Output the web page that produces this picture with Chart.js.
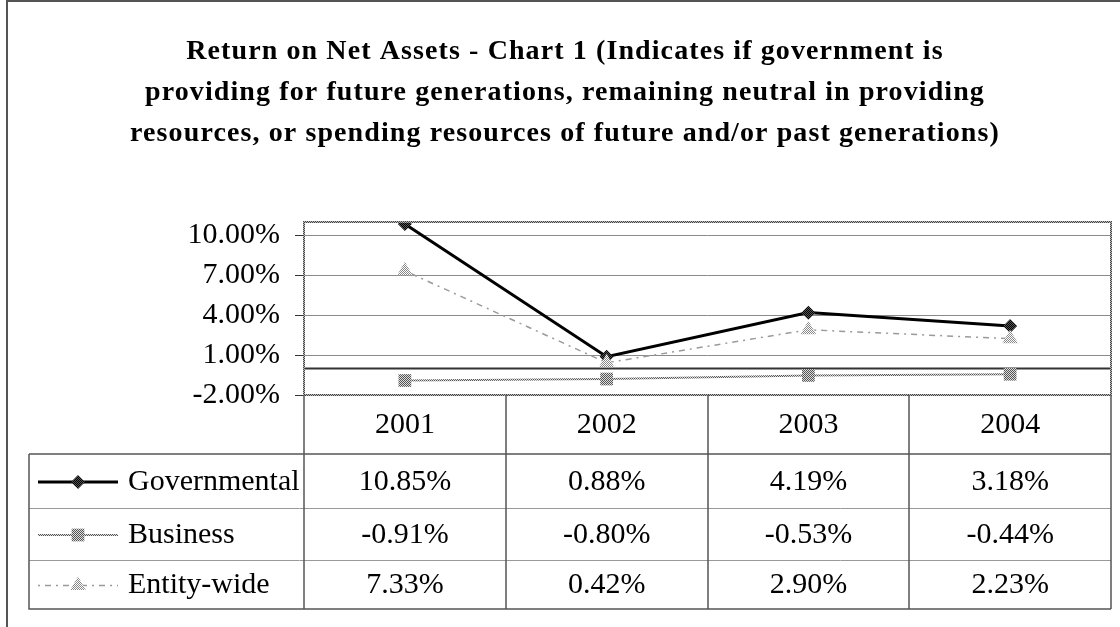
<!DOCTYPE html>
<html>
<head>
<meta charset="utf-8">
<script src="https://cdn.jsdelivr.net/npm/chart.js@4.4.0/dist/chart.umd.min.js"></script>
<style>
  html, body { margin: 0; padding: 0; background: #fff; }
  #wrap { width: 1120px; height: 627px; }
</style>
</head>
<body>
<div id="wrap"><canvas id="chart" width="1120" height="627"></canvas></div>
<script>
// title, categories and series
const titleLines = [
  'Return on Net Assets - Chart 1 (Indicates if government is',
  'providing for future generations, remaining neutral in providing',
  'resources, or spending resources of future and/or past generations)'
];
const years = ['2001', '2002', '2003', '2004'];
const seriesNames = ['Governmental', 'Business', 'Entity-wide'];
const governmental = [10.85, 0.88, 4.19, 3.18];
const business = [-0.91, -0.80, -0.53, -0.44];
const entityWide = [7.33, 0.42, 2.90, 2.23];
const yTicks = [-2, 1, 4, 7, 10];
const yMin = -2;
const yMax = 11;

const SERIF = '"Liberation Serif", "Times New Roman", serif';
const pct = v => v.toFixed(2) + '%';

const canvas = document.getElementById('chart');
const ctx = canvas.getContext('2d');

// 2x2 checker, gives the old dithered-grey look
function checker(c1, c2) {
  const p = document.createElement('canvas');
  p.width = 2; p.height = 2;
  const g = p.getContext('2d');
  g.fillStyle = c2; g.fillRect(0, 0, 2, 2);
  g.fillStyle = c1; g.fillRect(0, 0, 1, 1); g.fillRect(1, 1, 1, 1);
  return ctx.createPattern(p, 'repeat');
}

const ditherDark = checker('#000', '#555');
const ditherMid = checker('#555', '#ddd');
const ditherLight = checker('#888', '#fff');
const frameDither = checker('#444', '#bbb');

const seriesStyle = [
  { color: '#000', width: 3, dash: [], point: 'rectRot', radius: 7, fill: ditherDark },
  { color: ditherMid, width: 2, dash: [], point: 'rect', radius: 9, fill: ditherMid },
  { color: '#9a9a9a', width: 1.5, dash: [2, 5, 6, 5], point: 'triangle', radius: 9, fill: ditherLight }
];
const seriesData = [governmental, business, entityWide];

function drawMarker(c, style, x, y, r, fill) {
  c.save();
  c.fillStyle = fill;
  c.beginPath();
  if (style === 'rectRot') {
    c.moveTo(x - r, y); c.lineTo(x, y - r); c.lineTo(x + r, y); c.lineTo(x, y + r);
  } else if (style === 'rect') {
    const s = r * Math.SQRT1_2;
    c.rect(x - s, y - s, 2 * s, 2 * s);
  } else {
    c.moveTo(x, y - r);
    c.lineTo(x + Math.sin(2 * Math.PI / 3) * r, y - Math.cos(2 * Math.PI / 3) * r);
    c.lineTo(x + Math.sin(4 * Math.PI / 3) * r, y - Math.cos(4 * Math.PI / 3) * r);
  }
  c.closePath();
  c.fill();
  c.restore();
}

// outer frame, title, zero line
const backdrop = {
  id: 'backdrop',
  beforeDraw(chart) {
    const c = chart.ctx;
    c.save();
    c.strokeStyle = '#555';
    c.lineWidth = 2;
    c.beginPath();
    c.moveTo(7, 627); c.lineTo(7, 1); c.lineTo(1120, 1);
    c.stroke();
    c.fillStyle = '#000';
    c.font = 'bold 28px ' + SERIF;
    c.letterSpacing = '1.1px';
    c.textAlign = 'center';
    c.textBaseline = 'alphabetic';
    titleLines.forEach((t, i) => c.fillText(t, 565, 59 + i * 41));
    c.restore();
  },
  beforeDatasetsDraw(chart) {
    const c = chart.ctx;
    const a = chart.chartArea;
    const y0 = chart.scales.y.getPixelForValue(0);
    c.save();
    c.strokeStyle = '#333';
    c.lineWidth = 2;
    c.beginPath();
    c.moveTo(a.left, y0); c.lineTo(a.right, y0);
    c.stroke();
    c.restore();
  }
};

// plot frame and the data table underneath
const dataTable = {
  id: 'dataTable',
  afterDraw(chart) {
    const c = chart.ctx;
    const a = chart.chartArea;
    const x = chart.scales.x;
    const band = (a.right - a.left) / years.length;
    const headTop = a.bottom;
    const rowTops = [454, 508, 560];
    const tableBottom = 609;
    const tableLeft = 29;

    c.save();
    // plot frame
    c.strokeStyle = frameDither;
    c.lineWidth = 2;
    c.strokeRect(a.left, a.top, a.right - a.left, a.bottom - a.top);

    // light row separators
    c.strokeStyle = '#999';
    c.lineWidth = 1;
    c.beginPath();
    [rowTops[1], rowTops[2]].forEach(y => { c.moveTo(tableLeft, y + 0.5); c.lineTo(a.right, y + 0.5); });
    c.stroke();

    // dark grid of the table
    c.strokeStyle = '#555';
    c.lineWidth = 1.5;
    c.beginPath();
    for (let i = 0; i <= years.length; i++) {
      const xv = Math.round(a.left + i * band);
      c.moveTo(xv, headTop); c.lineTo(xv, tableBottom);
    }
    c.moveTo(tableLeft, rowTops[0]); c.lineTo(a.right, rowTops[0]);
    c.moveTo(tableLeft, rowTops[0]); c.lineTo(tableLeft, tableBottom);
    c.lineTo(a.right, tableBottom);
    c.stroke();

    c.fillStyle = '#000';
    c.font = '30px ' + SERIF;
    c.textBaseline = 'middle';
    c.textAlign = 'center';
    years.forEach((yr, i) => c.fillText(yr, x.getPixelForValue(i), (headTop + rowTops[0]) / 2 + 1));

    const rowBottoms = [rowTops[1], rowTops[2], tableBottom];
    seriesNames.forEach((name, r) => {
      const cy = (rowTops[r] + rowBottoms[r]) / 2 + 1;
      const st = seriesStyle[r];
      c.textAlign = 'center';
      seriesData[r].forEach((v, i) => c.fillText(pct(v), x.getPixelForValue(i), cy));
      // legend key
      c.save();
      c.strokeStyle = st.color;
      c.lineWidth = st.width;
      c.setLineDash(st.dash);
      c.beginPath();
      c.moveTo(38, cy); c.lineTo(118, cy);
      c.stroke();
      c.restore();
      drawMarker(c, st.point, 78, cy, st.radius, st.fill);
      c.textAlign = 'left';
      c.fillText(name, 128, cy);
    });
    c.restore();
  }
};

new Chart(canvas, {
  type: 'line',
  data: {
    labels: years,
    datasets: seriesNames.map((name, i) => ({
      label: name,
      data: seriesData[i],
      borderColor: seriesStyle[i].color,
      borderWidth: seriesStyle[i].width,
      borderDash: seriesStyle[i].dash,
      pointStyle: seriesStyle[i].point,
      pointRadius: seriesStyle[i].radius,
      pointBackgroundColor: seriesStyle[i].fill,
      pointBorderWidth: 0,
      tension: 0,
      fill: false
    })).reverse()
  },
  options: {
    responsive: false,
    animation: false,
    layout: { padding: { left: 0, top: 222, right: 8, bottom: 232 } },
    plugins: { legend: { display: false }, tooltip: { enabled: false }, title: { display: false } },
    scales: {
      x: { type: 'category', offset: true, display: false },
      y: {
        min: yMin,
        max: yMax,
        afterBuildTicks: s => { s.ticks = yTicks.map(v => ({ value: v })); },
        afterFit: s => { s.width = 304; },
        border: { display: false },
        grid: { color: '#8a8a8a', lineWidth: 1, tickLength: 9, tickColor: '#333' },
        ticks: {
          padding: 15,
          color: '#000',
          font: { family: SERIF, size: 30 },
          callback: v => pct(v)
        }
      }
    }
  },
  plugins: [backdrop, dataTable]
});
</script>
</body>
</html>
